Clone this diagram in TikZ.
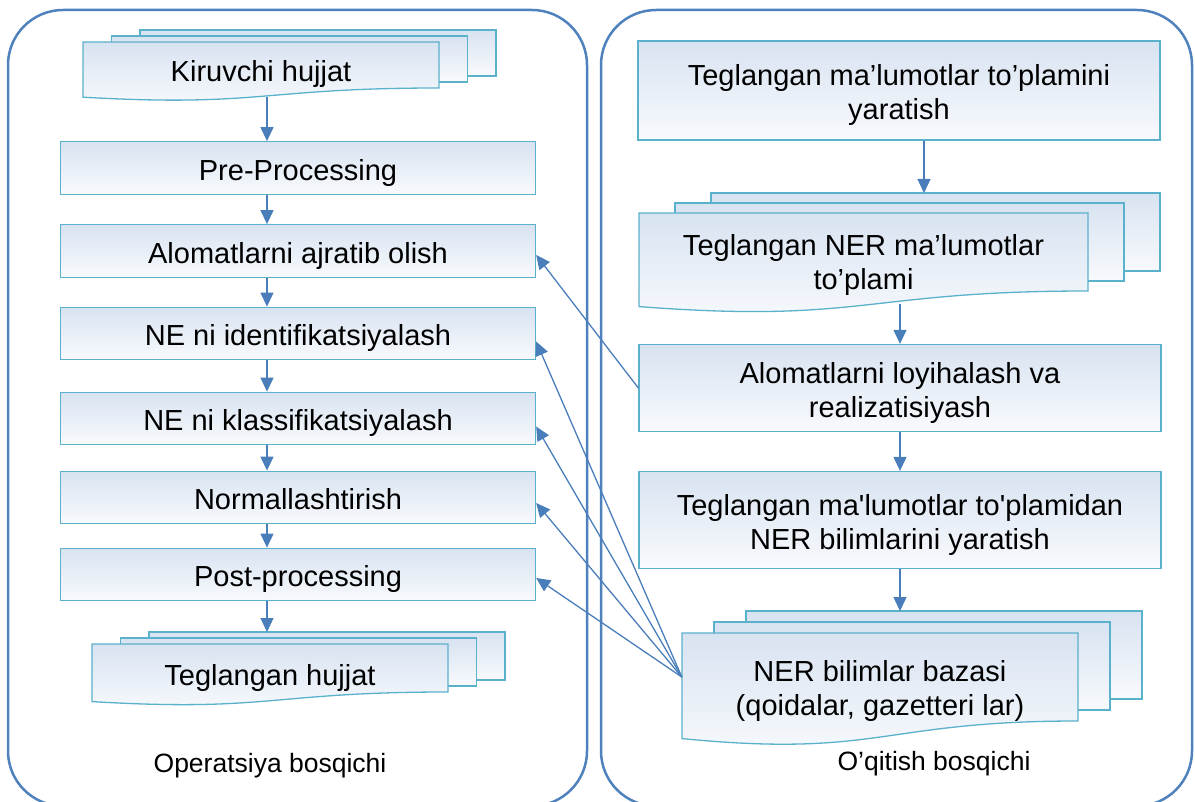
\documentclass[tikz,border=0pt]{standalone}
\usepackage{fontspec}
\setmainfont{Liberation Sans}[Ligatures=TeXOff]
\usetikzlibrary{arrows.meta,calc}

\definecolor{contour}{HTML}{4F81BD}
\definecolor{boxline}{HTML}{5AB1CB}
\definecolor{boxtop}{HTML}{D8E3F1}
\definecolor{boxbot}{HTML}{F8FAFD}
\definecolor{flowline}{HTML}{4A7EBB}

\begin{document}
\begin{tikzpicture}[x=1pt, y=-1pt]
	\tikzstyle{stage}   = [draw=contour, line width=2.5pt, rounded corners=55pt]
	\tikzstyle{box}     = [rectangle, draw=boxline, line width=1.3pt, top color=boxtop, bottom color=boxbot, align=center, inner sep=0pt, font=\fontsize{29}{34}\selectfont, execute at begin node={\rule[-6.5pt]{0pt}{37.8pt}}]
	\tikzstyle{twoline} = [execute at begin node={\rule[-6.5pt]{0pt}{71.5pt}}]
	\tikzstyle{sheet}   = [draw=boxline, line width=1.3pt, top color=boxtop, bottom color=boxbot]
	\tikzstyle{doctext} = [align=center, inner sep=0pt, font=\fontsize{29}{34}\selectfont]
	\tikzstyle{flow}    = [draw=flowline, line width=1.3pt, -{Triangle[length=14pt, width=13pt]}]
	\tikzstyle{caption} = [font=\fontsize{26.5}{30}\selectfont]

	\useasboundingbox (0,0) rectangle (1195,802);

	% the two stages
	\draw[stage] (8,10) rectangle (587,806);
	\draw[stage] (601,10) rectangle (1192,806);

	% stacked documents
	\foreach \nm/\xl/\yt/\xr/\yb/\dx/\dy/\rh/\txt in {
		kir/83/42/439/88/28.5/6/37.8/{Kiruvchi hujjat},
		teg/92/644/448/692/28.5/6/37.8/{Teglangan hujjat},
		ned/639/213/1088/291/36/10/71.5/{Teglangan NER ma’lumotlar\\to’plami},
		nbb/682/633/1078/721/32/11/71.5/{NER bilimlar bazasi\\(qoidalar, gazetteri lar)}}
	{
		\draw[sheet] (\xl+2*\dx,\yt-2*\dy) rectangle (\xr+2*\dx,\yb-2*\dy);
		\draw[sheet] (\xl+\dx,\yt-\dy) rectangle (\xr+\dx,\yb-\dy);
		\draw[sheet] (\xl,\yt) -- (\xr,\yt) -- (\xr,\yb)
			.. controls ({(\xl+\xr)/2},\yb) and ({(\xl+\xr)/2},{\yb+0.42*(\yb-\yt)}) .. (\xl,{\yb+0.2*(\yb-\yt)}) -- cycle;
		\node[inner sep=0pt, minimum width={\xr-\xl}, minimum height={\yb-\yt}] (\nm) at ({(\xl+\xr)/2},{(\yt+\yb)/2}) {};
		\node[doctext, execute at begin node={\rule[-6.5pt]{0pt}{\rh pt}}] (\nm-txt) at ($(\nm)+(0,{0.1*(\yb-\yt)})$) {\txt};
		\coordinate (\nm-top) at ({(\xl+\xr)/2+2*\dx},\yt-2*\dy);
	}

	% operation steps
	\foreach \nm/\y/\txt in {pre/168/Pre-Processing, ajr/251/Alomatlarni ajratib olish, ide/333.5/NE ni identifikatsiyalash, kla/418.5/NE ni klassifikatsiyalash, nor/497.5/Normallashtirish, pos/574.5/Post-processing}
		\node[box, minimum width=475pt, minimum height=52.5pt] (\nm) at (298,\y) {\txt};

	% training steps
	\node[box, twoline, minimum width=522pt, minimum height=99pt] (tmt) at (899,90.5) {Teglangan ma’lumotlar to’plamini\\yaratish};
	\node[box, twoline, minimum width=522pt, minimum height=87pt] (loy) at (900,388) {Alomatlarni loyihalash va\\realizatisiyash};
	\node[box, twoline, minimum width=522pt, minimum height=97pt] (bil) at (900,520) {Teglangan ma'lumotlar to'plamidan\\NER bilimlarini yaratish};

	\node[caption] (oper) at (270,766) {Operatsiya bosqichi};
	\node[caption] (oqit) at (934,764) {O’qitish bosqichi};

	\coordinate (lcol) at (267,0);
	\coordinate (rcol) at (900,0);
	\coordinate (tcol) at (924,0);

	% left flow
	\draw[flow] ($(kir.south -| lcol)+(0,9)$) -- (pre.north -| lcol);
	\foreach \from/\to in {pre/ajr, ajr/ide, ide/kla, kla/nor, nor/pos}
		\draw[flow] (\from.south -| lcol) -- (\to.north -| lcol);
	\draw[flow] (pos.south -| lcol) -- (teg-top -| lcol);

	% right flow
	\draw[flow] (tmt.south -| tcol) -- (ned-top -| tcol);
	\draw[flow] ($(ned.south -| rcol)+(0,13)$) -- (loy.north -| rcol);
	\draw[flow] (loy.south -| rcol) -- (bil.north -| rcol);
	\draw[flow] (bil.south -| rcol) -- (nbb-top -| rcol);

	% feeding the operation steps
	\draw[flow] (loy.west) -- ([yshift=-4pt]ajr.east);
	\foreach \to/\off in {ide/8, kla/8, nor/5.5, pos/3.5}
		\draw[flow] (nbb.west) -- ([yshift=-\off]\to.east);
\end{tikzpicture}
\end{document}
